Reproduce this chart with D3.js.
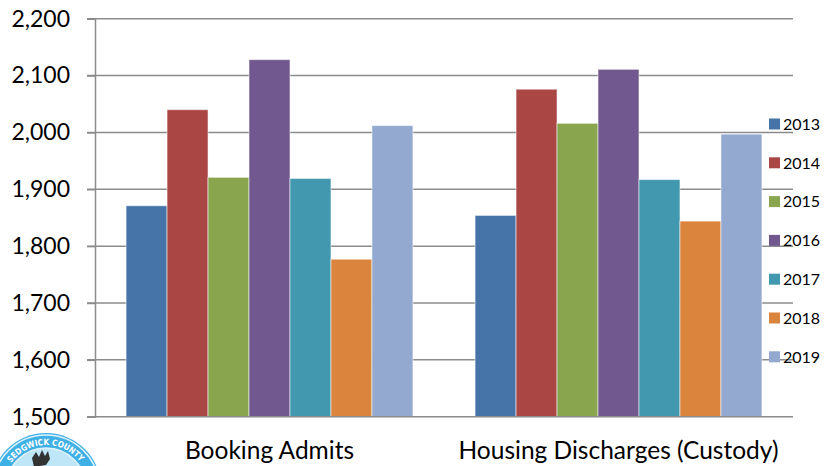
<!DOCTYPE html>
<html>
<head>
<meta charset="utf-8">
<script src="https://cdn.jsdelivr.net/npm/d3@7/dist/d3.min.js"></script>
<style>
  html, body { margin: 0; padding: 0; background: #fff; }
  svg { display: block; font-family: Lato, "Open Sans", sans-serif; }
</style>
</head>
<body>
<svg id="chart" width="825" height="466"></svg>
<script>
const categories = ["Booking Admits", "Housing Discharges (Custody)"];
const years = ["2013", "2014", "2015", "2016", "2017", "2018", "2019"];
const bookingAdmits = [1871, 2040, 1921, 2128, 1919, 1777, 2012];
const housingDischarges = [1854, 2076, 2016, 2111, 1917, 1844, 1997];
const yTicks = [1500, 1600, 1700, 1800, 1900, 2000, 2100, 2200];
const colors = ["#4673a8", "#aa4644", "#89a54e", "#71588f", "#4198af", "#db843d", "#93a9cf"];

const seriesByCategory = [bookingAdmits, housingDischarges];

const svg = d3.select("#chart");
const pLeft = 95, pRight = 793, pTop = 18.7, pBottom = 416.7;

const x0 = d3.scaleBand().domain(categories).range([pLeft, pRight]).paddingInner(0.178).paddingOuter(0.089);
const x1 = d3.scaleBand().domain(years).range([0, x0.bandwidth()]);
const y = d3.scaleLinear().domain([1500, 2200]).range([pBottom, pTop]);

// gridlines
svg.append("g").selectAll("line").data(yTicks.slice(1)).join("line")
  .attr("x1", pLeft - 8).attr("x2", pRight)
  .attr("y1", d => y(d)).attr("y2", d => y(d))
  .attr("stroke", "#8c8c8c").attr("stroke-width", 1.5);

// bars
const groups = svg.append("g").selectAll("g").data(categories).join("g")
  .attr("transform", d => `translate(${x0(d)},0)`);
groups.selectAll("rect").data((d, i) => seriesByCategory[i].map((v, j) => ({year: years[j], v, c: colors[j]})))
  .join("rect")
  .attr("x", d => x1(d.year))
  .attr("width", x1.bandwidth())
  .attr("y", d => y(d.v))
  .attr("height", d => y(1500) - y(d.v))
  .attr("fill", d => d.c)
  .attr("stroke", "rgba(255,255,255,0.55)")
  .attr("stroke-width", 1);

// axes
const yAxis = d3.axisLeft(y).tickValues(yTicks).tickSize(8).tickPadding(17)
  .tickFormat(d3.format(","));
const gy = svg.append("g").attr("transform", `translate(${pLeft},0)`).call(yAxis);
gy.select(".domain").attr("stroke", "#8c8c8c").attr("stroke-width", 1.5);
gy.selectAll(".tick line").attr("stroke", "#8c8c8c").attr("stroke-width", 1.5);
gy.selectAll(".tick text").attr("font-size", 23).attr("fill", "#000")
  .attr("font-family", "Lato, sans-serif");

const xAxis = d3.axisBottom(x0).tickSize(0).tickPadding(25);
const gx = svg.append("g").attr("transform", `translate(0,${pBottom})`).call(xAxis);
gx.select(".domain").attr("stroke", "#8c8c8c").attr("stroke-width", 1.5)
  .attr("d", `M${pLeft - 8},0H${pRight}`);
gx.selectAll(".tick text").attr("font-size", 24.5).attr("fill", "#000")
  .attr("font-family", "Lato, sans-serif");

// legend
const lg = svg.append("g").selectAll("g").data(years).join("g")
  .attr("transform", (d, i) => `translate(769,${124 + i * 38.8})`);
lg.append("rect").attr("x", 0).attr("y", -5.5).attr("width", 11).attr("height", 11)
  .attr("fill", (d, i) => colors[i]);
lg.append("text").attr("x", 14).attr("y", 0).attr("dy", "0.36em")
  .attr("font-size", 16).attr("fill", "#000").text(d => d);

// seal (partial, bottom-left)
const seal = svg.append("g").attr("transform", "translate(46,488)");
seal.append("circle").attr("r", 55).attr("fill", "#3fb0e6");
seal.append("circle").attr("r", 53).attr("fill", "none").attr("stroke", "#dff3fc").attr("stroke-width", 1.5);
seal.append("circle").attr("r", 40).attr("fill", "#bfe6f7");
seal.append("circle").attr("r", 40).attr("fill", "none").attr("stroke", "#dff3fc").attr("stroke-width", 1.5);
seal.append("path").attr("id", "sealArc").attr("fill", "none")
  .attr("d", d3.arc()({innerRadius: 43, outerRadius: 43, startAngle: -0.95, endAngle: 0.95}).split("L")[0]);
seal.append("text").attr("font-size", 8.5).attr("font-weight", "bold").attr("fill", "#fff")
  .attr("font-family", "DejaVu Sans, sans-serif")
  .append("textPath").attr("href", "#sealArc").attr("startOffset", "0")
  .attr("textLength", 80).attr("lengthAdjust", "spacingAndGlyphs").text("SEDGWICK COUNTY");
seal.append("path").attr("d", "M-14,-30 l4,-6 l3,5 l3,-7 l3,6 l3,-5 l2,8 l-4,6 l-12,2 z").attr("fill", "#333");
</script>
</body>
</html>
